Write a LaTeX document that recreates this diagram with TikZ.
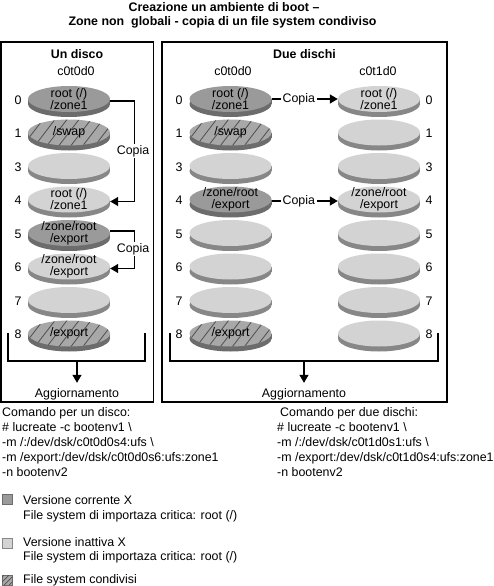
\documentclass[tikz,border=0pt]{standalone}
\usepackage{fontspec}
\setmainfont{Liberation Sans}
\usetikzlibrary{shapes.geometric,arrows.meta}
\definecolor{darkface}{HTML}{9A9A9A}
\definecolor{darkrim}{HTML}{6C6C6C}
\definecolor{lightface}{HTML}{D3D3D3}
\definecolor{lightrim}{HTML}{878787}
\definecolor{hatchface}{HTML}{A8A8A8}
\definecolor{hatchcol}{HTML}{505050}
\newcommand\mydisk[6]{%
  \fill[#5] (#2,#3+5) ellipse[x radius=41pt,y radius=13pt];
  \fill[#5] (#2-41,#3) rectangle (#2+41,#3+5);
  \node[diskface,fill=#4] (#1) at (#2,#3) {};
  \node[disktxt] at (#2,#3) {#6};
}
\newcommand\myhdisk[4]{%
  \fill[darkrim] (#2,#3+5) ellipse[x radius=41pt,y radius=13pt];
  \fill[darkrim] (#2-41,#3) rectangle (#2+41,#3+5);
  \node[diskface,fill=hatchface] (#1) at (#2,#3) {};
  \begin{scope}
    \clip (#2,#3) ellipse[x radius=41pt,y radius=13pt];
    \foreach \k in {-6,...,6} \draw[hatchline] (#2+12*\k-10,#3+13) -- (#2+12*\k+10,#3-13);
  \end{scope}
  \node[disktxt] at (#2,#3) {#4};
}
\tikzset{
  txt/.style={font=\fontsize{12.4}{12}\selectfont, inner sep=0pt},
  btxt/.style={font=\fontsize{12.4}{12}\selectfont\bfseries, inner sep=0pt},
  disktxt/.style={font=\fontsize{12.4}{12}\selectfont, inner sep=0pt, align=center},
  diskface/.style={ellipse, minimum width=82pt, minimum height=26pt, inner sep=0pt, draw=none},
  hatchline/.style={draw=hatchcol, line width=0.8pt},
  panel/.style={draw=black, line width=1.4pt},
  line/.style={draw=black, line width=1.3pt},
  conn/.style={line, -{Triangle[length=8pt,width=9pt]}},
  copia/.style={txt, fill=white, inner xsep=1.5pt, inner ysep=1pt},
}
\begin{document}
\begin{tikzpicture}[x=1pt,y=-1pt]
\useasboundingbox (0,0) rectangle (494,586);
% title
\node[btxt, anchor=base] (t1) at (224,12) {Creazione un ambiente di boot –};
\node[btxt, anchor=base] (t2) at (222.5,26) {Zone non\ \ globali - copia di un file system condiviso};
% panels
\draw[panel] (1,42) rectangle (153.5,402);
\draw[panel] (162,42) rectangle (447,402);
\node[btxt, anchor=base] (h1) at (77,58.5) {Un disco};
\node[btxt, anchor=base] (h2) at (304.5,58.5) {Due dischi};
\node[txt, anchor=base] (d1) at (76,75) {c0t0d0};
\node[txt, anchor=base] (d2) at (233,75) {c0t0d0};
\node[txt, anchor=base] (d3) at (378,75) {c0t1d0};
% left panel disks
\mydisk{L0}{69}{99}{darkface}{darkrim}{root (/)\\/zone1}
\myhdisk{L1}{69}{132.5}{/swap}
\mydisk{L3}{69}{166}{lightface}{lightrim}{}
\mydisk{L4}{69}{199.5}{lightface}{lightrim}{root (/)\\/zone1}
\mydisk{L5}{69}{233}{darkface}{darkrim}{/zone/root\\/export}
\mydisk{L6}{69}{266.5}{lightface}{lightrim}{/zone/root\\/export}
\mydisk{L7}{69}{300}{lightface}{lightrim}{}
\myhdisk{L8}{69}{333.5}{/export}
% right panel, first column
\mydisk{A0}{230.5}{99}{darkface}{darkrim}{root (/)\\/zone1}
\myhdisk{A1}{230.5}{132.5}{/swap}
\mydisk{A3}{230.5}{166}{lightface}{lightrim}{}
\mydisk{A4}{230.5}{199.5}{darkface}{darkrim}{/zone/root\\/export}
\mydisk{A5}{230.5}{233}{lightface}{lightrim}{}
\mydisk{A6}{230.5}{266.5}{lightface}{lightrim}{}
\mydisk{A7}{230.5}{300}{lightface}{lightrim}{}
\myhdisk{A8}{230.5}{333.5}{/export}
% right panel, second column
\mydisk{B0}{379}{99}{lightface}{lightrim}{root (/)\\/zone1}
\mydisk{B1}{379}{132.5}{lightface}{lightrim}{}
\mydisk{B3}{379}{166}{lightface}{lightrim}{}
\mydisk{B4}{379}{199.5}{lightface}{lightrim}{/zone/root\\/export}
\mydisk{B5}{379}{233}{lightface}{lightrim}{}
\mydisk{B6}{379}{266.5}{lightface}{lightrim}{}
\mydisk{B7}{379}{300}{lightface}{lightrim}{}
\mydisk{B8}{379}{333.5}{lightface}{lightrim}{}
% slice numbers
\foreach \n/\y in {0/99,1/132.5,3/166,4/199.5,5/233,6/266.5,7/300,8/333.5}{
  \node[txt, anchor=base] (nl\n) at (18,\y+5) {\n};
  \node[txt, anchor=base] (na\n) at (179,\y+5) {\n};
  \node[txt, anchor=base] (nb\n) at (429,\y+5) {\n};
}
% left copy arrows
\draw[conn] ([yshift=-2pt]L0.east) -- ++(24,0) |- ([yshift=-2pt]L4.east);
\node[copia] (cp1) at (133,151) {Copia};
\draw[conn] ([yshift=2pt]L5.east) -- ++(24,0) |- ([yshift=-2pt]L6.east);
\node[copia] (cp2) at (133,249) {Copia};
% right copy arrows
\draw[conn] (A0.east) -- (B0.west) node[copia, pos=0.41] (cp3) {Copia};
\draw[conn] ([yshift=-1.5pt]A4.east) -- ([yshift=-1.5pt]B4.west) node[copia, pos=0.41] (cp4) {Copia};
% brackets and upgrade
\draw[line] (8,333) -- (8,361) -- (145,361) -- (145,333);
\coordinate (b1) at (77,361);
\node[txt, anchor=base] (agg1) at (77,397) {Aggiornamento};
\draw[conn] (b1) -- ([yshift=5pt]agg1.north);
\draw[line] (170,333) -- (170,361) -- (438,361) -- (438,333);
\coordinate (b2) at (304,361);
\node[txt, anchor=base] (agg2) at (304,397) {Aggiornamento};
\draw[conn] (b2) -- ([yshift=5pt]agg2.north);
% commands
\node[txt, anchor=base west] (cl1) at (2,416.5) {Comando per un disco:};
\node[txt, anchor=base west] (cl2) at (2,431.5) {\# lucreate -c bootenv1 \textbackslash};
\node[txt, anchor=base west] (cl3) at (2,446.5) {-m /:/dev/dsk/c0t0d0s4:ufs \textbackslash};
\node[txt, anchor=base west] (cl4) at (2,461.5) {-m /export:/dev/dsk/c0t0d0s6:ufs:zone1};
\node[txt, anchor=base west] (cl5) at (2,476.5) {-n bootenv2};
\node[txt, anchor=base west] (cr1) at (280,416.5) {Comando per due dischi:};
\node[txt, anchor=base west] (cr2) at (277,431.5) {\# lucreate -c bootenv1 \textbackslash};
\node[txt, anchor=base west] (cr3) at (277,446.5) {-m /:/dev/dsk/c0t1d0s1:ufs \textbackslash};
\node[txt, anchor=base west] (cr4) at (277,461.5) {-m /export:/dev/dsk/c0t1d0s4:ufs:zone1};
\node[txt, anchor=base west] (cr5) at (277,476.5) {-n bootenv2};
% legend
\draw[fill=darkface, draw=darkrim, line width=0.8pt] (2,494) rectangle (12,504);
\node[txt, anchor=base west] (lg1) at (23,504.5) {Versione corrente X};
\node[txt, anchor=base west] (lg2) at (23,519.5) {File system di importaza critica: root (/)};
\draw[fill=lightface, draw=lightrim, line width=0.8pt] (2,538) rectangle (12,548);
\node[txt, anchor=base west] (lg3) at (23,546) {Versione inattiva X};
\node[txt, anchor=base west] (lg4) at (23,560) {File system di importaza critica: root (/)};
\draw[fill=hatchface, draw=darkrim, line width=0.8pt] (2,575) rectangle (12,585);
\begin{scope}
  \clip (2,575) rectangle (12,585);
  \foreach \k in {-8,-3,2,7} \draw[hatchcol, line width=0.7pt] (2+\k,585) -- (12+\k,575);
\end{scope}
\node[txt, anchor=base west] (lg5) at (23,583) {File system condivisi};
\end{tikzpicture}
\end{document}
